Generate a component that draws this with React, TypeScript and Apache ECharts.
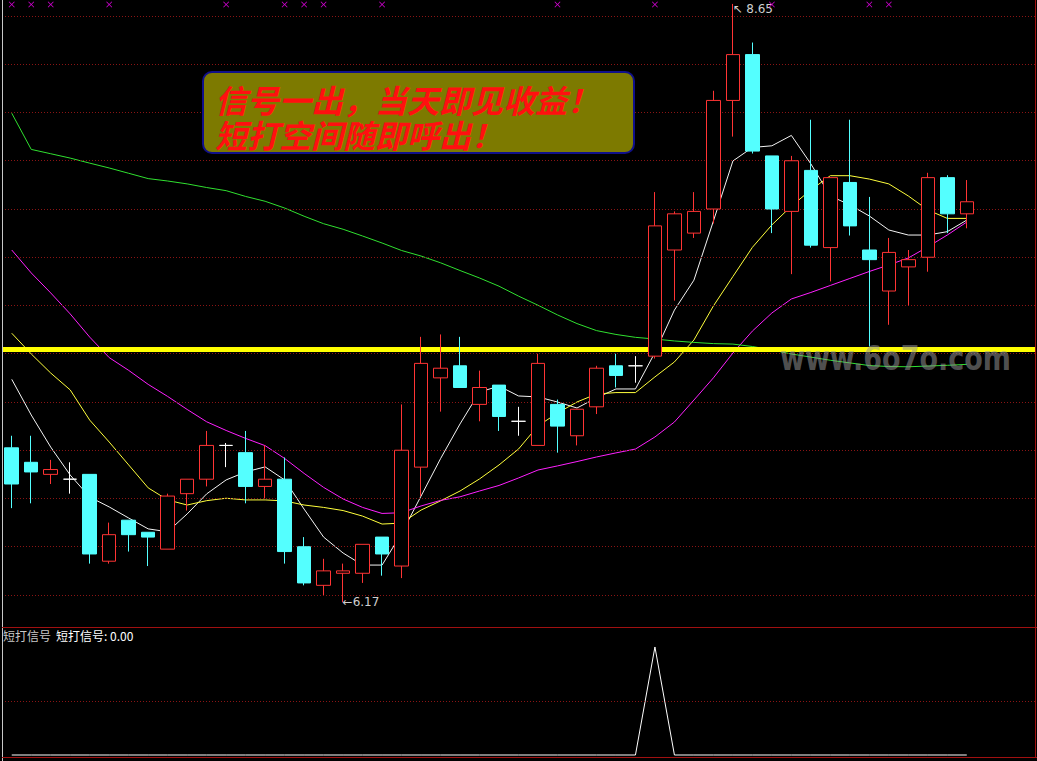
import React, { useEffect, useRef } from 'react';
import * as echarts from 'echarts';

// ---- data ----
const opens  = [6.81,6.75,6.70,6.68,6.70,6.34,6.51,6.46,6.39,6.62,6.68,6.82,6.79,6.65,6.68,6.40,6.24,6.29,6.29,6.44,6.32,6.73,7.10,7.15,6.99,7.07,6.92,6.82,6.99,6.86,6.98,7.15,7.15,7.19,7.63,7.70,7.80,8.25,8.44,8.02,7.79,7.96,7.64,7.91,7.63,7.46,7.56,7.60,7.93,7.78];
const closes = [6.66,6.71,6.72,6.68,6.37,6.45,6.45,6.44,6.61,6.68,6.82,6.82,6.65,6.68,6.38,6.25,6.30,6.30,6.41,6.37,6.80,7.16,7.14,7.06,7.06,6.94,6.92,7.16,6.90,6.97,7.14,7.11,7.15,7.73,7.78,7.79,8.25,8.44,8.04,7.80,8.00,7.65,7.93,7.73,7.59,7.62,7.59,7.93,7.78,7.83];
const lows   = [6.56,6.58,6.66,6.62,6.33,6.33,6.38,6.32,6.39,6.55,6.65,6.73,6.58,6.60,6.33,6.24,6.20,6.17,6.25,6.28,6.27,6.61,6.96,7.06,6.92,6.88,6.86,6.82,6.79,6.82,6.95,7.06,7.08,7.18,7.42,7.68,7.74,8.10,8.03,7.70,7.53,7.64,7.50,7.69,7.23,7.32,7.40,7.54,7.70,7.72];
const highs  = [6.86,6.86,6.76,6.75,6.70,6.50,6.51,6.46,6.62,6.68,6.88,6.83,6.88,6.82,6.77,6.44,6.35,6.33,6.41,6.44,6.99,7.27,7.28,7.27,7.13,7.07,6.98,7.20,7.01,6.97,7.15,7.20,7.19,7.87,7.79,7.87,8.29,8.65,8.49,8.02,8.02,8.17,7.93,8.17,7.85,7.68,7.63,7.95,7.94,7.92];

const ma5  = [7.094,6.946,6.813,6.697,6.606,6.565,6.519,6.474,6.462,6.536,6.619,6.677,6.710,6.731,6.677,6.556,6.440,6.374,6.324,6.324,6.455,6.610,6.765,6.909,7.041,7.066,7.025,7.021,7.000,6.975,7.017,7.054,7.054,7.205,7.381,7.505,7.750,7.999,8.055,8.062,8.105,7.987,7.854,7.817,7.771,7.713,7.692,7.692,7.706,7.754];
const ma10 = [7.285,7.199,7.120,7.050,6.925,6.834,6.739,6.644,6.594,6.573,6.591,6.601,6.594,6.594,6.590,6.573,6.563,6.550,6.527,6.494,6.498,6.552,6.590,6.631,6.681,6.739,6.805,6.901,6.954,7.000,7.033,7.039,7.039,7.104,7.166,7.257,7.398,7.520,7.641,7.734,7.812,7.879,7.938,7.938,7.924,7.904,7.854,7.796,7.761,7.761];
const ma20 = [7.630,7.535,7.452,7.365,7.269,7.184,7.131,7.073,7.023,6.969,6.918,6.882,6.849,6.819,6.766,6.704,6.646,6.598,6.563,6.538,6.541,6.569,6.592,6.607,6.631,6.654,6.685,6.718,6.735,6.753,6.772,6.789,6.805,6.855,6.917,7.008,7.100,7.203,7.294,7.369,7.427,7.454,7.483,7.512,7.541,7.568,7.597,7.643,7.692,7.746];
const ma60 = [8.197,8.047,8.029,8.011,7.990,7.970,7.948,7.926,7.916,7.904,7.889,7.876,7.852,7.832,7.804,7.770,7.739,7.716,7.688,7.659,7.628,7.605,7.577,7.545,7.514,7.480,7.439,7.401,7.361,7.325,7.296,7.280,7.268,7.261,7.253,7.247,7.242,7.240,7.230,7.216,7.199,7.186,7.173,7.162,7.151,7.147,7.146,7.149,7.152,7.156];

const signal = [0,0,0,0,0,0,0,0,0,0,0,0,0,0,0,0,0,0,0,0,0,0,0,0,0,0,0,0,0,0,0,0,0,1,0,0,0,0,0,0,0,0,0,0,0,0,0,0,0,0];
const markerIdx = [0,1,2,5,11,14,15,16,19,28,33,39,44,45];
const gridLevels = [6.2,6.4,6.6,6.8,7.0,7.2,7.4,7.6,7.8,8.0,8.2,8.4,8.6];
const keyLevel = 7.22;
const slotCount = 53;
const signalName = '短打信号';
const boxLine1 = '信号一出，当天即见收益！';
const boxLine2 = '短打空间随即呼出！';
const watermark = 'www.6o7o.com';

const UP = '#ff3434';
const DOWN = '#54ffff';
const GRIDRED = '#8a1414';

export default function App() {
  const ref = useRef<HTMLDivElement>(null);
  useEffect(() => {
    const chart = echarts.init(ref.current!, null, { renderer: 'svg' });
    const cats = Array.from({ length: slotCount }, (_, i) => String(i + 1));
    const candles = opens.map((o, i) => {
      const v = [o, closes[i], lows[i], highs[i]];
      if (o === closes[i]) {
        return {
          value: v,
          itemStyle: { color: '#ffffff', color0: '#ffffff', borderColor: '#ffffff', borderColor0: '#ffffff', borderColorDoji: '#ffffff' },
        };
      }
      return v;
    });
    const line = (name: string, data: number[], color: string) => ({
      name, type: 'line', data, xAxisIndex: 0, yAxisIndex: 0, symbol: 'none', z: 4,
      lineStyle: { color, width: 1 }, silent: true,
    });
    const option: any = {
      animation: false,
      backgroundColor: '#000000',
      grid: [
        { left: 2, right: 2, top: 0, height: 627 },
        { left: 2, right: 2, top: 627, height: 130 },
      ],
      xAxis: [
        { type: 'category', data: cats, gridIndex: 0, boundaryGap: true, show: false },
        { type: 'category', data: cats, gridIndex: 1, boundaryGap: true, show: false },
      ],
      yAxis: [
        { type: 'value', gridIndex: 0, min: 6.0673, max: 8.6663, show: false, splitLine: { show: false } },
        { type: 'value', gridIndex: 1, min: -0.0185, max: 1.185, show: false, splitLine: { show: false } },
        { type: 'value', gridIndex: 0, min: 0, max: 1, show: false, splitLine: { show: false } },
      ],
      series: [
        {
          type: 'line', data: [], xAxisIndex: 0, yAxisIndex: 0, z: 1, silent: true,
          markLine: {
            silent: true, symbol: 'none', label: { show: false },
            lineStyle: { color: GRIDRED, width: 1, type: [1, 2] },
            data: gridLevels.map((v) => ({ yAxis: v })),
          },
        },
        line('MA5', ma5, '#f4f4f4'),
        line('MA10', ma10, '#ffff3c'),
        line('MA20', ma20, '#ff20ff'),
        line('MA60', ma60, '#30e030'),
        {
          type: 'candlestick', data: candles, xAxisIndex: 0, yAxisIndex: 0, barWidth: 14, z: 5,
          itemStyle: { color: '#000000', color0: DOWN, borderColor: UP, borderColor0: DOWN, borderColorDoji: '#ffffff', borderWidth: 1 },
          markPoint: {
            symbol: 'circle', symbolSize: 1, itemStyle: { color: 'rgba(0,0,0,0)' },
            label: { show: true, color: '#cfcfcf', fontSize: 12, fontFamily: 'DejaVu Sans' },
            data: [
              { type: 'max', valueDim: 'highest', label: { position: [0, 0], align: 'left', verticalAlign: 'top', formatter: (p: any) => '↖ ' + Number(p.value).toFixed(2) } },
              { type: 'min', valueDim: 'lowest', label: { position: [0, 0], align: 'left', verticalAlign: 'middle', formatter: (p: any) => '←' + Number(p.value).toFixed(2) } },
            ],
          },
        },
        {
          type: 'line', data: [], xAxisIndex: 0, yAxisIndex: 0, z: 6, silent: true,
          markLine: {
            silent: true, symbol: 'none', label: { show: false },
            lineStyle: { color: '#ffff00', width: 5, type: 'solid' },
            data: [{ yAxis: keyLevel }],
          },
        },
        {
          type: 'scatter', xAxisIndex: 0, yAxisIndex: 2, z: 6, silent: true,
          data: markerIdx.map((i) => [i, 1]),
          symbol: 'path://M0,1L1,0L5,4L9,0L10,1L6,5L10,9L9,10L5,6L1,10L0,9L4,5Z',
          symbolSize: 6, symbolOffset: [0, 4.5],
          itemStyle: { color: '#ff00ff' },
        },
        {
          type: 'line', name: signalName, data: signal, xAxisIndex: 1, yAxisIndex: 1, symbol: 'none', z: 4,
          lineStyle: { color: '#ffffff', width: 1 }, silent: true,
          markLine: {
            silent: true, symbol: 'none', label: { show: false },
            lineStyle: { color: GRIDRED, width: 1, type: [1, 2] },
            data: [{ yAxis: 0.5 }],
          },
        },
      ],
      graphic: [
        { type: 'line', z: 20, shape: { x1: 2.5, y1: 0, x2: 2.5, y2: 761 }, style: { stroke: '#c8c8c8', lineWidth: 1 } },
        { type: 'line', z: 20, shape: { x1: 1035.5, y1: 0, x2: 1035.5, y2: 757 }, style: { stroke: '#a01010', lineWidth: 1 } },
        { type: 'line', z: 20, shape: { x1: 2, y1: 627.5, x2: 1037, y2: 627.5 }, style: { stroke: '#a01010', lineWidth: 1 } },
        { type: 'line', z: 20, shape: { x1: 2, y1: 757.5, x2: 1037, y2: 757.5 }, style: { stroke: '#a01010', lineWidth: 1 } },
        {
          type: 'rect', z: 30, shape: { x: 203, y: 72, width: 431, height: 81, r: 9 },
          style: { fill: '#7d7a00', stroke: '#10108a', lineWidth: 2 },
        },
        {
          type: 'text', z: 31, x: 215, y: 81,
          style: {
            text: boxLine1 + '\n' + boxLine2, fill: '#ff1010', lineHeight: 35,
            font: 'italic bold 32px "Noto Sans CJK SC"',
            textShadowColor: '#500000', textShadowOffsetX: 1, textShadowOffsetY: 1, textShadowBlur: 0,
          },
        },
        {
          type: 'text', z: 40, x: 780, y: 358, scaleY: 1.25,
          style: { text: watermark, fill: 'rgba(150,150,150,0.55)', font: 'bold 27px "DejaVu Sans"', verticalAlign: 'middle' },
        },
        {
          type: 'text', z: 31, x: 3, y: 629,
          style: { text: signalName, fill: '#c8c8c8', font: '12px "Noto Sans CJK SC"' },
        },
        {
          type: 'text', z: 31, x: 56, y: 629,
          style: { text: signalName + ': ' + signal[signal.length - 1].toFixed(2), fill: '#ffffff', font: '12px "Noto Sans CJK SC"' },
        },
      ],
    };
    chart.setOption(option);
    return () => chart.dispose();
  }, []);
  return <div ref={ref} style={{ position: 'absolute', left: 0, top: 0, width: 1037, height: 761, background: '#000' }} />;
}
